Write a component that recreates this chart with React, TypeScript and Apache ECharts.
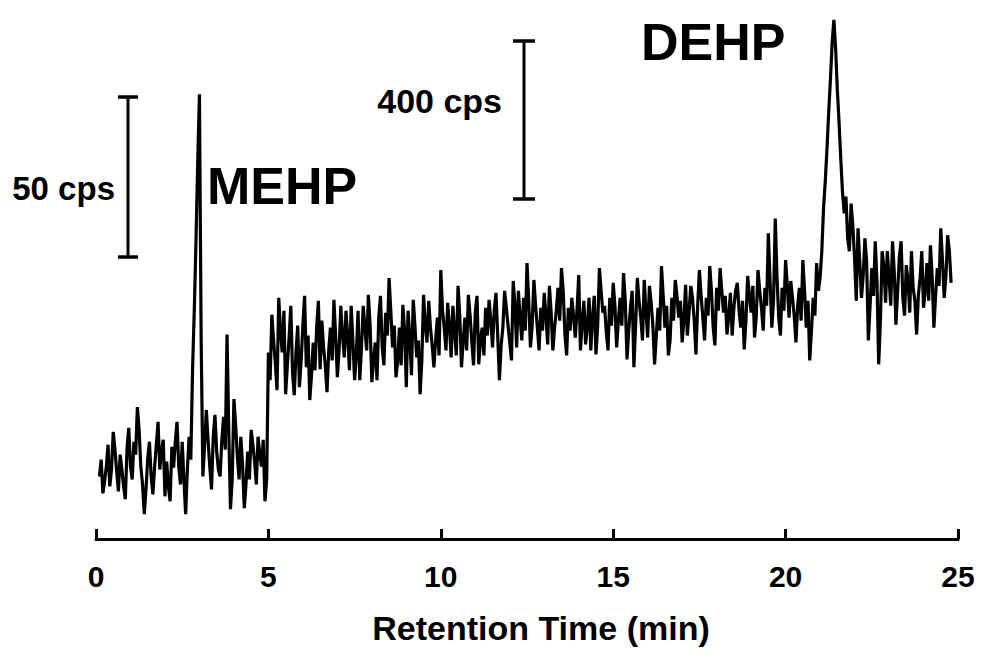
import React, { useEffect, useRef } from "react";
import * as echarts from "echarts";

// Sampling of the trace (retention time, min)
const START_MIN = 0.1;
const STEP_MIN = 0.05;

// Signal intensity (arbitrary units), segment by segment
const seg0to5 = [
  63, 80, 46, 58, 73, 95, 53, 70, 108, 90, 68, 48, 85, 70, 53, 40, 91, 112, 73, 60,
  98, 85, 133, 110, 73, 55, 25, 50, 81, 98, 63, 45, 73, 95, 118, 70, 88, 100, 43, 78,
  53, 38, 93, 72, 98, 118, 73, 55, 98, 60, 25, 70, 103, 80, 170, 230, 300, 380, 448, 200,
  63, 95, 130, 100, 73, 50, 103, 125, 88, 70, 63, 100, 123, 90, 206, 110, 30, 60, 141, 115,
  83, 60, 103, 75, 31, 55, 88, 60, 110, 95, 78, 55, 103, 85, 73, 100, 38, 60, 188,
];
const seg5to10 = [
  160, 226, 200, 178, 150, 243, 210, 188, 230, 146, 175, 203, 235, 168, 145, 188, 215, 153, 180, 215,
  245, 173, 205, 140, 165, 198, 170, 213, 240, 171, 220, 193, 175, 148, 190, 213, 180, 241, 205, 163,
  190, 235, 205, 183, 230, 203, 170, 235, 200, 160, 185, 230, 160, 193, 235, 213, 190, 246, 215, 158,
  180, 198, 160, 223, 245, 193, 175, 228, 205, 263, 230, 193, 215, 163, 180, 213, 175, 236, 210, 153,
  230, 203, 165, 241, 215, 183, 200, 146, 180, 246, 215, 198, 240, 213, 195, 173, 200, 223, 185, 271,
];
const seg10to15 = [
  230, 213, 190, 238, 215, 183, 235, 208, 185, 255, 225, 173, 200, 223, 190, 246, 225, 198, 175, 228,
  245, 176, 200, 213, 185, 233, 205, 241, 220, 193, 230, 248, 205, 160, 195, 213, 250, 233, 215, 198,
  180, 260, 235, 193, 250, 223, 200, 243, 210, 278, 240, 193, 215, 261, 235, 213, 190, 233, 210, 248,
  225, 196, 255, 228, 190, 213, 230, 253, 220, 273, 250, 206, 185, 233, 210, 243, 225, 203, 230, 266,
  190, 218, 240, 196, 215, 243, 190, 223, 245, 186, 215, 273, 250, 228, 235, 208, 190, 243, 215, 258,
];
const seg15to20 = [
  235, 193, 220, 243, 215, 268, 240, 181, 210, 233, 250, 173, 215, 263, 240, 223, 200, 261, 230, 203,
  255, 238, 215, 176, 205, 233, 210, 275, 245, 213, 235, 185, 200, 243, 220, 261, 245, 223, 240, 198,
  220, 256, 205, 228, 255, 243, 220, 186, 235, 271, 245, 223, 200, 243, 225, 275, 250, 213, 195, 253,
  230, 273, 250, 228, 245, 206, 225, 248, 205, 233, 250, 258, 230, 213, 240, 191, 220, 265, 245, 228,
  255, 203, 225, 271, 250, 233, 210, 253, 235, 308, 260, 213, 240, 323, 265, 223, 205, 253, 230, 281,
];
const seg20to25 = [
  255, 223, 260, 243, 225, 198, 235, 253, 220, 281, 250, 213, 240, 180, 210, 243, 225, 278, 250, 263,
  290, 333, 360, 393, 430, 463, 500, 523, 495, 453, 420, 383, 350, 328, 345, 303, 290, 338, 315, 283,
  240, 313, 280, 243, 265, 303, 280, 200, 235, 273, 245, 300, 260, 176, 220, 290, 275, 238, 290, 263,
  235, 300, 270, 216, 250, 285, 300, 243, 225, 276, 260, 228, 290, 253, 240, 206, 245, 263, 290, 233,
  250, 278, 240, 296, 265, 213, 245, 273, 255, 313, 280, 243, 265, 306, 290, 258,
];

const xTicks = [0, 5, 10, 15, 20, 25];
const xAxisTitle = "Retention Time (min)";
const peakLabels = ["MEHP", "DEHP"];
const scaleLabels = ["50 cps", "400 cps"];

const FONT = "'Liberation Sans', Arial, Helvetica, sans-serif";

export default function App() {
  const ref = useRef<HTMLDivElement>(null);

  useEffect(() => {
    if (!ref.current) return;
    const chart = echarts.init(ref.current, null, { renderer: "svg" });
    const values = [...seg0to5, ...seg5to10, ...seg10to15, ...seg15to20, ...seg20to25];
    const data = values.map((v, i) => [+(START_MIN + i * STEP_MIN).toFixed(2), v]);

    const bar = (x: number, y1: number, y2: number, cap: number) => [
      { type: "line", shape: { x1: x, y1, x2: x, y2 }, style: { stroke: "#000", lineWidth: 3 } },
      { type: "line", shape: { x1: x - cap, y1, x2: x + cap, y2: y1 }, style: { stroke: "#000", lineWidth: 3.5 } },
      { type: "line", shape: { x1: x - cap, y1: y2, x2: x + cap, y2 }, style: { stroke: "#000", lineWidth: 3.5 } },
    ];

    chart.setOption({
      animation: false,
      backgroundColor: "#fff",
      grid: { left: 96, right: 28, top: 10, bottom: 107 },
      xAxis: {
        type: "value",
        min: 0,
        max: 25,
        interval: 5,
        name: xAxisTitle,
        nameLocation: "middle",
        nameGap: 72,
        nameTextStyle: {
          fontFamily: FONT,
          fontWeight: "bold",
          fontSize: 34,
          color: "#000",
          padding: [0, 0, 0, 28],
        },
        axisLine: { show: true, lineStyle: { color: "#000", width: 3 } },
        axisTick: { show: true, inside: true, length: 10, lineStyle: { color: "#000", width: 3 } },
        axisLabel: {
          margin: 22,
          fontFamily: FONT,
          fontWeight: "bold",
          fontSize: 30,
          color: "#000",
          formatter: (v: number) => (xTicks.includes(v) ? String(v) : ""),
        },
        splitLine: { show: false },
      },
      yAxis: { type: "value", min: 0, max: 533, show: false },
      series: [
        {
          type: "line",
          data,
          showSymbol: false,
          symbol: "none",
          lineStyle: { color: "#000", width: 3.2 },
          silent: true,
        },
      ],
      graphic: [
        ...bar(128, 97, 257, 10),
        ...bar(524, 41, 199, 11),
        {
          type: "text",
          x: 115,
          y: 188,
          style: { text: scaleLabels[0], font: `bold 33px ${FONT}`, fill: "#000", align: "right", verticalAlign: "middle" },
        },
        {
          type: "text",
          x: 502,
          y: 101,
          style: { text: scaleLabels[1], font: `bold 34px ${FONT}`, fill: "#000", align: "right", verticalAlign: "middle" },
        },
        {
          type: "text",
          x: 207,
          y: 186,
          style: { text: peakLabels[0], font: `bold 52px ${FONT}`, fill: "#000", align: "left", verticalAlign: "middle" },
        },
        {
          type: "text",
          x: 641,
          y: 42,
          style: { text: peakLabels[1], font: `bold 52px ${FONT}`, fill: "#000", align: "left", verticalAlign: "middle" },
        },
      ],
    });
    return () => chart.dispose();
  }, []);

  return (
    <div
      ref={ref}
      style={{ position: "fixed", left: 0, top: 0, width: 986, height: 650, background: "#fff" }}
    />
  );
}
